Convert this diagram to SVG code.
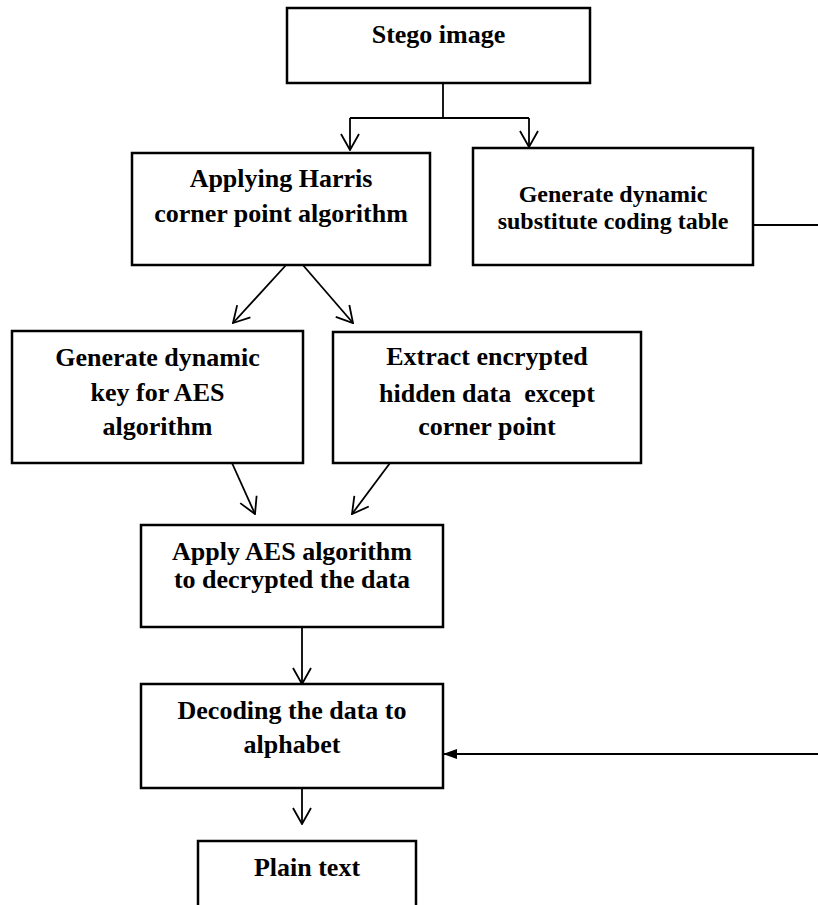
<svg xmlns="http://www.w3.org/2000/svg" width="818" height="905" viewBox="0 0 818 905">
  <style>
    .box { fill: #ffffff; stroke: #000000; stroke-width: 2.5; }
    .lbl { font-family: "Liberation Serif", "Times New Roman", serif; font-weight: bold; font-size: 26px; fill: #000000; text-anchor: middle; }
    .sm { font-size: 24px; }
    .conn { fill: none; stroke: #000000; stroke-width: 1.8; }
  </style>
  <defs>
    <marker id="open" markerUnits="userSpaceOnUse" viewBox="0 0 18 20" refX="17" refY="10" markerWidth="18" markerHeight="20" orient="auto">
      <path d="M1,1 L17,10 L1,19" fill="none" stroke="#000000" stroke-width="1.8"/>
    </marker>
    <marker id="filled" markerUnits="userSpaceOnUse" viewBox="0 0 14 10" refX="13" refY="5" markerWidth="14" markerHeight="10" orient="auto">
      <path d="M0,0 L14,5 L0,10 z" fill="#000000"/>
    </marker>
  </defs>

  <g id="connectors">
    <path class="conn" d="M443,83 V118"/>
    <path class="conn" d="M350,118 H529"/>
    <path class="conn" d="M350,118 V150" marker-end="url(#open)"/>
    <path class="conn" d="M529,118 V147" marker-end="url(#open)"/>
    <path class="conn" d="M287,264 L233,323" marker-end="url(#open)"/>
    <path class="conn" d="M302,264 L353,323" marker-end="url(#open)"/>
    <path class="conn" d="M232,463 L255,514" marker-end="url(#open)"/>
    <path class="conn" d="M390,463 L352,514" marker-end="url(#open)"/>
    <path class="conn" d="M302,627 V684" marker-end="url(#open)"/>
    <path class="conn" d="M302,788 V824" marker-end="url(#open)"/>
    <path class="conn" d="M753,225 H821 V754 H444" marker-end="url(#filled)"/>
  </g>

  <g id="stego">
    <rect class="box" x="287" y="8" width="303" height="75"/>
    <text class="lbl" x="438.5" y="43">Stego image</text>
  </g>

  <g id="harris">
    <rect class="box" x="132" y="153" width="298" height="112"/>
    <text class="lbl" x="281" y="187">Applying Harris</text>
    <text class="lbl" x="281" y="222">corner point algorithm</text>
  </g>

  <g id="substitute">
    <rect class="box" x="473" y="148" width="280" height="117"/>
    <text class="lbl sm" x="613" y="202">Generate dynamic</text>
    <text class="lbl sm" x="613" y="229">substitute coding table</text>
  </g>

  <g id="key">
    <rect class="box" x="12" y="331" width="291" height="132"/>
    <text class="lbl" x="157.5" y="366">Generate dynamic</text>
    <text class="lbl" x="157.5" y="401">key for AES</text>
    <text class="lbl" x="157.5" y="435">algorithm</text>
  </g>

  <g id="extract">
    <rect class="box" x="333" y="332" width="308" height="131"/>
    <text class="lbl" x="487" y="365">Extract encrypted</text>
    <text class="lbl" x="487" y="402" xml:space="preserve">hidden data  except</text>
    <text class="lbl" x="487" y="435">corner point</text>
  </g>

  <g id="aes">
    <rect class="box" x="141" y="525" width="302" height="102"/>
    <text class="lbl" x="292" y="560">Apply AES algorithm</text>
    <text class="lbl" x="292" y="588">to decrypted the data</text>
  </g>

  <g id="decoding">
    <rect class="box" x="141" y="684" width="302" height="104"/>
    <text class="lbl" x="292" y="719">Decoding the data to</text>
    <text class="lbl" x="292" y="753">alphabet</text>
  </g>

  <g id="plain">
    <rect class="box" x="198" y="841" width="218" height="80"/>
    <text class="lbl" x="307" y="876">Plain text</text>
  </g>
</svg>
